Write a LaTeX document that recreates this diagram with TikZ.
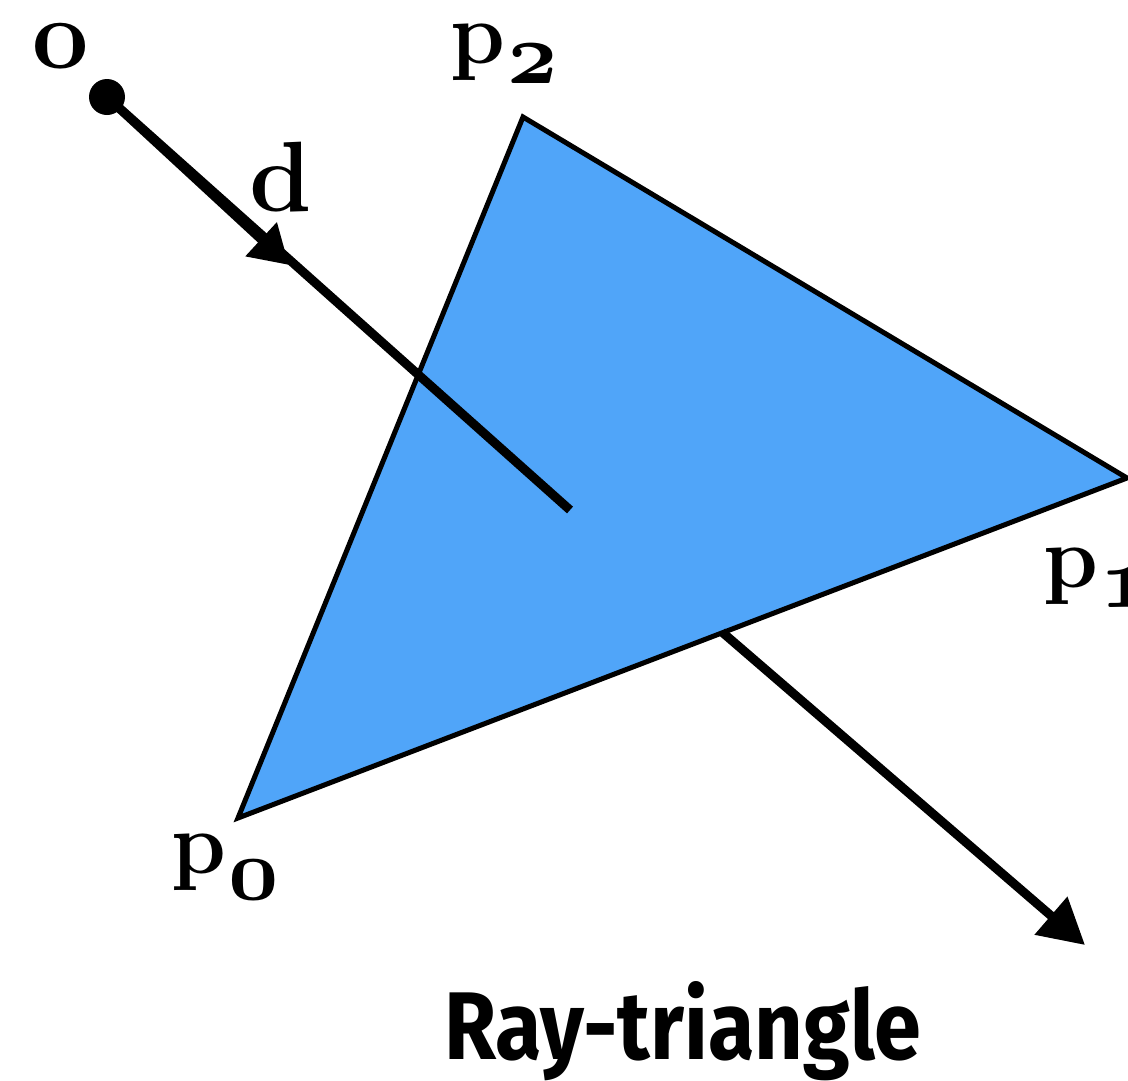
\documentclass[tikz,border=0pt]{standalone}
\usepackage{fontspec}
\newfontfamily\titlefont{Fira Sans}
\usetikzlibrary{arrows.meta}
\definecolor{triblue}{HTML}{50A5F9}
\newcommand{\osub}[1]{\scalebox{8}{\fontsize{11}{11}\usefont{OML}{cmm}{b}{it}#1}}
\begin{document}
\begin{tikzpicture}[x=1pt,y=-1pt,
  ray/.style={line width=9pt,line cap=butt},
  lbl/.style={inner sep=0pt,anchor=base,font=\fontsize{100}{100}\selectfont\bfseries},
  plbl/.style={inner sep=0pt,anchor=base west,font=\fontsize{88}{88}\selectfont\bfseries}]
\useasboundingbox (0,0) rectangle (1128,1080);
% triangle
\coordinate (p0) at (238,818);
\coordinate (p1) at (1127,478);
\coordinate (p2) at (523,117);
\filldraw[fill=triblue,draw=black,line width=5pt,line join=miter] (p0) -- (p1) -- (p2) -- cycle;
% ray
\node[circle,fill=black,inner sep=0pt,minimum size=36pt] (o) at (107,97) {};
\coordinate (e) at (570,510);
\coordinate (dtip) at (289,265);
\draw[ray] (o.center) -- (e);
\draw[ray,-{Triangle[length=38pt,width=44pt]}] (o.center) -- (dtip);
% exiting ray
\coordinate (x) at (722,632);
\coordinate (xtip) at (1085,945);
\draw[ray,-{Triangle[length=45pt,width=48pt]}] (x) -- (xtip);
% labels
\node[lbl] (lo) at (61,68) {o};
\node[lbl] (ld) at (281,211) {d};
\node[plbl] (lp2) at (450,63) {p\kern2pt\raisebox{-20pt}{\osub{2}}};
\node[plbl] (lp0) at (171,873) {p\kern2pt\raisebox{-26pt}{\osub{0}}};
\node[plbl] (lp1) at (1043,587) {p\kern2pt\raisebox{-20pt}{\osub{1}}};
% title
\node[inner sep=0pt,anchor=base] (title) at (683,1059) {\resizebox{477pt}{78pt}{\titlefont\bfseries Ray-triangle}};
\end{tikzpicture}
\end{document}
